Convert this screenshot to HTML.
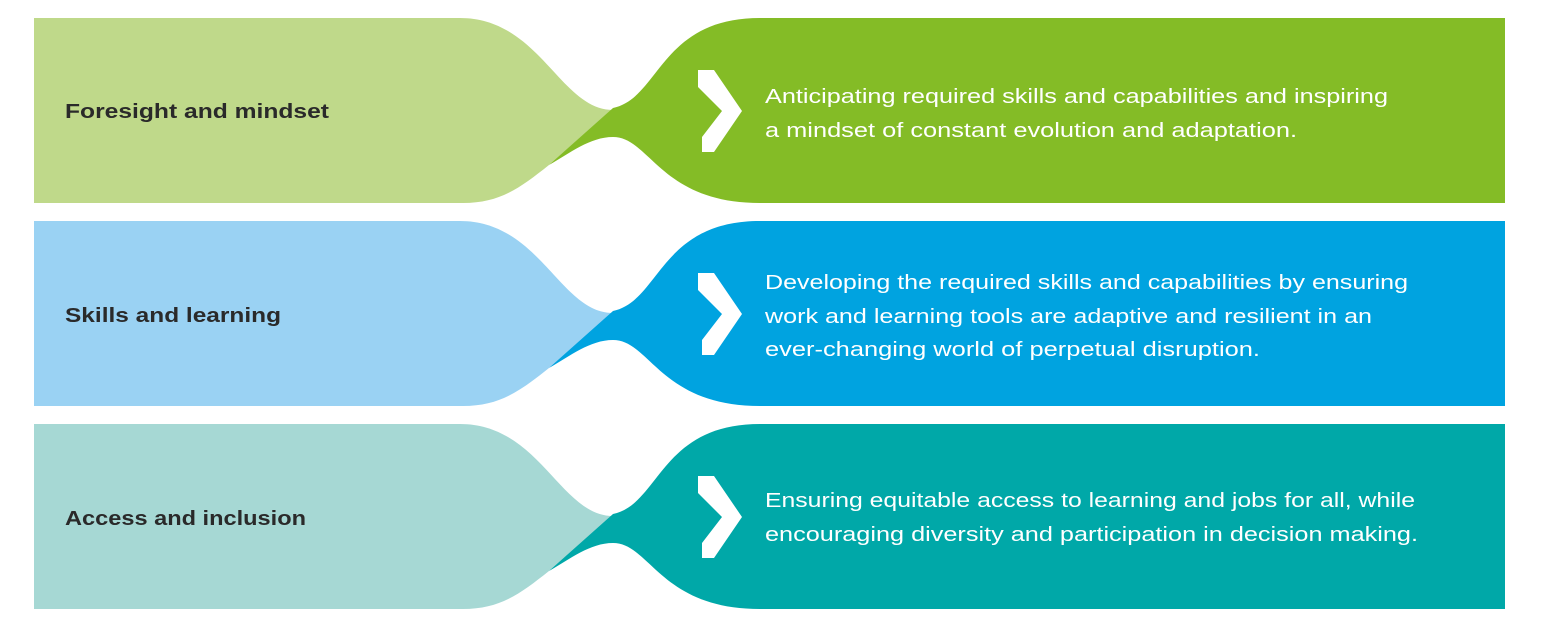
<!DOCTYPE html>
<html><head><meta charset="utf-8"><style>
html,body{margin:0;padding:0;background:#fff;}
svg{display:block}
text{font-family:"Liberation Sans",sans-serif;}
.l{font-size:20px;font-weight:bold;fill:#2a2a2a}
.r{font-size:20px;fill:#fff}
</style></head><body>
<svg width="1554" height="638" viewBox="0 0 1554 638">
<defs>
<g id="light"><path d="M34,0 H460 C540,0 560,92 613,92 L549,147 C520,170 500,185 463,185 H34 Z"/></g>
<g id="dark"><path d="M549,147 L613,90 C660,80 660,0 760,0 H1505 V185 H760 C660,185 650,119 613,119 C590,119 570,135 549,147 Z"/></g>
<polygon id="chev" points="698,52 714,52 742,93 714,134 702,134 702,119 722,93 698,69" fill="#fff"/>
</defs>
<g transform="translate(0,18)"><use href="#light" fill="#bfd98a"/><use href="#dark" fill="#84bc26"/><use href="#chev"/></g>
<g transform="translate(0,221)"><use href="#light" fill="#9ad2f3"/><use href="#dark" fill="#00a3e0"/><use href="#chev"/></g>
<g transform="translate(0,424)"><use href="#light" fill="#a6d8d4"/><use href="#dark" fill="#00a8a8"/><use href="#chev"/></g>

<text class="l" x="65" y="118" textLength="264" lengthAdjust="spacingAndGlyphs">Foresight and mindset</text>
<text class="l" x="65" y="322" textLength="216" lengthAdjust="spacingAndGlyphs">Skills and learning</text>
<text class="l" x="65" y="525" textLength="241" lengthAdjust="spacingAndGlyphs">Access and inclusion</text>

<text class="r" x="765" y="103" textLength="623" lengthAdjust="spacingAndGlyphs">Anticipating required skills and capabilities and inspiring</text>
<text class="r" x="765" y="137" textLength="532" lengthAdjust="spacingAndGlyphs">a mindset of constant evolution and adaptation.</text>

<text class="r" x="765" y="289" textLength="643" lengthAdjust="spacingAndGlyphs">Developing the required skills and capabilities by ensuring</text>
<text class="r" x="765" y="323" textLength="607" lengthAdjust="spacingAndGlyphs">work and learning tools are adaptive and resilient in an</text>
<text class="r" x="765" y="356" textLength="495" lengthAdjust="spacingAndGlyphs">ever-changing world of perpetual disruption.</text>

<text class="r" x="765" y="507" textLength="650" lengthAdjust="spacingAndGlyphs">Ensuring equitable access to learning and jobs for all, while</text>
<text class="r" x="765" y="541" textLength="653" lengthAdjust="spacingAndGlyphs">encouraging diversity and participation in decision making.</text>
</svg>
</body></html>
